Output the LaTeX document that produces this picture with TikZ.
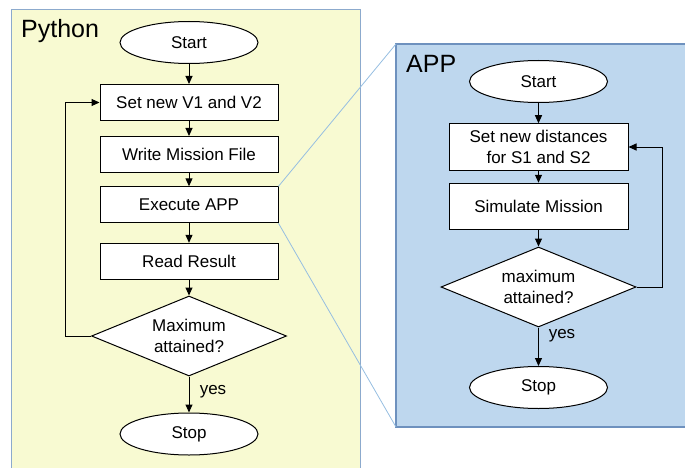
\documentclass[tikz,border=0pt]{standalone}
\usepackage{fontspec}
\setmainfont{Liberation Sans}
\usetikzlibrary{shapes.geometric,arrows.meta}
\definecolor{pyfill}{RGB}{248,250,210}
\definecolor{pyborder}{RGB}{140,170,205}
\definecolor{appfill}{RGB}{190,215,238}
\definecolor{appborder}{RGB}{110,145,190}
\definecolor{linkline}{RGB}{150,190,225}
\begin{document}
\begin{tikzpicture}[x=1pt,y=-1pt,
  base/.style={draw=black, fill=white, line width=1pt, inner sep=0pt,
    font=\fontsize{17}{20.5}\selectfont, align=center},
  pbox/.style={base, rectangle, minimum width=178pt, minimum height=36pt},
  abox/.style={base, rectangle, minimum width=179pt, minimum height=46.5pt},
  term/.style={base, ellipse, minimum width=138pt, minimum height=42pt},
  decide/.style={base, diamond, aspect=2.44, minimum width=195pt, minimum height=80pt},
  arr/.style={draw=black, line width=1pt, -{Triangle[length=8pt,width=7pt]}},
  title/.style={font=\fontsize{25}{25}\selectfont, inner sep=0pt, anchor=base west},
  lbl/.style={font=\fontsize{17}{17}\selectfont, inner sep=0pt}]
\useasboundingbox (0,0) rectangle (685,468);
% Python panel
\fill[pyfill] (11,10) rectangle (360,480);
\draw[pyborder, line width=1pt] (11,480) -- (11,10) -- (360,10) -- (360,480);
\node[title] (ptitle) at (21,37.5) {Python};
% APP panel
\fill[appfill] (396,44) rectangle (700,427);
\draw[appborder, line width=1.5pt] (700,44) -- (396,44) -- (396,427) -- (700,427);
\node[title] (atitle) at (406,72.5) {APP};
% Python flow
\node[term] (pstart) at (189,42.5) {Start};
\node[pbox] (pset) at (189,102.5) {Set new V1 and V2};
\node[pbox] (pwrite) at (189,154.5) {Write Mission File};
\node[pbox] (pexec) at (189,204.8) {Execute APP};
\node[pbox] (pread) at (189,261.3) {Read Result};
\node[decide] (pdec) at (189,336) {Maximum\\attained?};
\node[term] (pstop) at (189,434) {Stop};
\draw[arr] (pstart) -- (pset);
\draw[arr] (pset) -- (pwrite);
\draw[arr] (pwrite) -- (pexec);
\draw[arr] (pexec) -- (pread);
\draw[arr] (pread) -- (pdec);
\draw[arr] (pdec) -- (pstop);
\draw[arr] (pdec.west) -- ++(-26,0) |- (pset.west);
\node[lbl] (pyes) at (213,392) {yes};
% APP flow
\node[term] (astart) at (538.5,81.5) {Start};
\node[abox] (aset) at (538.5,147) {Set new distances\\for S1 and S2};
\node[abox] (asim) at (538.5,206.5) {Simulate Mission};
\node[decide] (adec) at (538.5,287) {maximum\\attained?};
\node[term] (astop) at (538.5,387.5) {Stop};
\draw[arr] (astart) -- (aset);
\draw[arr] (aset) -- (asim);
\draw[arr] (asim) -- (adec);
\draw[arr] (adec) -- (astop);
\draw[arr] (adec.east) -- ++(26,0) |- (aset.east);
\node[lbl] (ayes) at (562,336) {yes};
% zoom lines
\coordinate (ztl) at (396,44);
\coordinate (zbl) at (396,427);
\draw[linkline, line width=0.8pt] (pexec.north east) -- (ztl);
\draw[linkline, line width=0.8pt] (pexec.south east) -- (zbl);
\end{tikzpicture}
\end{document}
